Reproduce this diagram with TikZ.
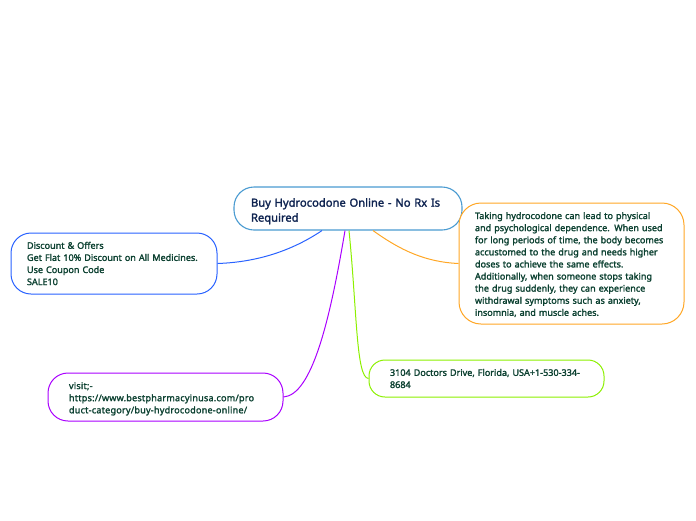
\documentclass[tikz,border=0pt]{standalone}
\usepackage{fontspec}
\setmainfont[FakeBold=1.8]{Noto Sans}
\definecolor{navytext}{HTML}{0E2350}
\definecolor{greentext}{HTML}{0B4030}
\definecolor{cblue}{HTML}{4A9BD1}
\definecolor{lblue}{HTML}{2962FF}
\definecolor{lorange}{HTML}{FFA726}
\definecolor{lpurple}{HTML}{AA00FF}
\definecolor{lgreen}{HTML}{8CF000}
\tikzset{
  topicbox/.style={draw,line width=1pt,fill=white,inner sep=0pt,align=left,anchor=center,
    font=\fontsize{9.05}{12.1}\selectfont,text=greentext},
  rootbox/.style={topicbox,line width=1.1pt,font=\fontsize{11.2}{15}\selectfont,text=navytext},
  link/.style={line width=1pt}
}
\begin{document}
\begin{tikzpicture}[x=1pt,y=-1pt]
\useasboundingbox (0,0) rectangle (696,520);
\node[rootbox,draw=cblue,rounded corners=20pt,minimum height=43pt,text width=194pt,inner xsep=17pt] (root) at (348,208.5)
  {\rule{0pt}{14pt}Buy Hydrocodone Online - No Rx Is\\Required};
\node[topicbox,draw=lorange,rounded corners=22pt,minimum height=121pt,text width=193pt,inner xsep=16pt] (risk) at (571.5,263.5)
  {\rule{0pt}{9pt}Taking hydrocodone can lead to physical\\and psychological dependence. When used\\for long periods of time, the body becomes\\accustomed to the drug and needs higher\\doses to achieve the same effects.\\Additionally, when someone stops taking\\the drug suddenly, they can experience\\withdrawal symptoms such as anxiety,\\insomnia, and muscle aches.};
\node[topicbox,draw=lblue,rounded corners=20pt,minimum height=61pt,text width=174pt,inner xsep=16pt] (offer) at (114,263.5)
  {Discount \& Offers\\Get Flat 10\% Discount on All Medicines.\\Use Coupon Code\\SALE10};
\node[topicbox,draw=lpurple,rounded corners=20pt,minimum height=48pt,text width=193pt,inner xsep=21pt] (visit) at (165.5,397)
  {\addfontfeatures{LetterSpace=2.5}\rule{0pt}{10.5pt}visit;-\\https://www.bestpharmacyinusa.com/pro\\duct-category/buy-hydrocodone-online/};
\node[topicbox,draw=lgreen,rounded corners=16pt,minimum height=37pt,text width=193pt,inner xsep=21pt] (addr) at (486.5,378.5)
  {3104 Doctors Drive, Florida, USA+1-530-334-\\8684};
\draw[link,lblue] (offer.east) .. controls (262,262) and (296,248) .. ([xshift=-26pt]root.south);
\draw[link,lorange] (risk.west) .. controls (425,262) and (400,250) .. ([xshift=25pt]root.south);
\draw[link,lpurple] (visit.east) .. controls (312,395) and (330,320) .. ([xshift=-3pt]root.south);
\draw[link,lgreen] (addr.west) .. controls (356,378) and (357,310) .. ([xshift=1pt]root.south);
\end{tikzpicture}
\end{document}
